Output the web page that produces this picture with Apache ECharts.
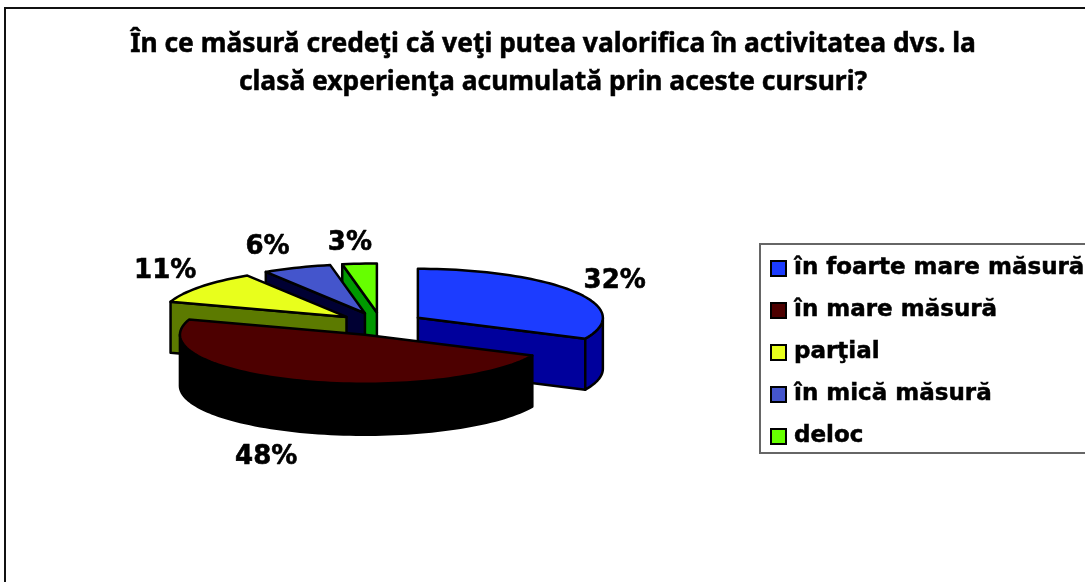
<!DOCTYPE html>
<html>
<head>
<meta charset="utf-8">
<title>Pie</title>
<style>
html,body{margin:0;padding:0;background:#fff}
#main{width:1085px;height:582px}
</style>
<script src="https://cdn.jsdelivr.net/npm/echarts@6/dist/echarts.min.js"></script>
</head>
<body>
<div id="main"></div>
<script>
// data
var titleText = 'În ce măsură credeţi că veţi putea valorifica în activitatea dvs. la\nclasă experienţa acumulată prin aceste cursuri?';
var categories = ['în foarte mare măsură', 'în mare măsură', 'parţial', 'în mică măsură', 'deloc'];
var values = [32, 48, 11, 6, 3];
var topColors = ['#1c3cff', '#4d0000', '#e8ff1c', '#4455cc', '#66ff00'];
var sideColors = ['#00009c', '#000000', '#5c7a00', '#000033', '#009900'];
// back to front
var drawOrder = [4, 3, 2, 0, 1];
// how far out the % label sits, in radii of the ellipse
var labelK = [[1.26, 1.48], [1.45, 1.53], [1.24, 1.6], [1.43, 1.49], [1.55, 1.46]];

var myChart = echarts.init(document.getElementById('main'));

// pie geometry
var baseX = 381, baseY = 324;
var rx = 185, ry = 49, depth = 51;
var explode = 0.236;
var labelFont = 'bold 26px "DejaVu Sans"';
var labelDy = 2;

var total = values.reduce(function (a, b) { return a + b; }, 0);
var startAngles = [];
var sum = 0;
for (var i = 0; i < values.length; i++) {
	startAngles.push(sum / total * 360);
	sum += values[i];
}

function rad(d) { return d * Math.PI / 180; }
function pt(c, deg, dy) {
	return [c[0] + rx * Math.sin(rad(deg)), c[1] - ry * Math.cos(rad(deg)) + (dy || 0)];
}
function arcPts(c, from, to, dy) {
	var res = [];
	var n = Math.max(2, Math.ceil((to - from) / 2));
	for (var i = 0; i <= n; i++) {
		res.push(pt(c, from + (to - from) * i / n, dy));
	}
	return res;
}
function poly(points, fill) {
	return {
		type: 'polygon',
		shape: {points: points},
		style: {fill: fill, stroke: '#000', lineWidth: 2.5, lineJoin: 'round'},
		silent: true
	};
}
function radialFace(c, deg, fill) {
	return poly([c, pt(c, deg), pt(c, deg, depth), [c[0], c[1] + depth]], fill);
}

function sliceItem(idx) {
	return function () {
		var from = startAngles[idx];
		var to = from + values[idx] / total * 360;
		var mid = (from + to) / 2;
		var c = [
			baseX + explode * rx * Math.sin(rad(mid)),
			baseY - explode * ry * Math.cos(rad(mid))
		];
		var kids = [];
		// cut faces turned to the viewer
		if (Math.sin(rad(from)) < -1e-6) kids.push(radialFace(c, from, sideColors[idx]));
		if (Math.sin(rad(to)) > 1e-6) kids.push(radialFace(c, to, sideColors[idx]));
		// outer wall, only the front half shows
		var a = Math.max(from, 90), b = Math.min(to, 270);
		if (b > a) {
			kids.push(poly(arcPts(c, a, b).concat(arcPts(c, a, b, depth).reverse()), sideColors[idx]));
		}
		// top
		kids.push(poly([c].concat(arcPts(c, from, to)), topColors[idx]));
		// label
		var below = Math.cos(rad(mid)) < 0 ? depth : 0;
		kids.push({
			type: 'text',
			silent: true,
			style: {
				x: c[0] + rx * labelK[idx][0] * Math.sin(rad(mid)),
				y: c[1] - ry * labelK[idx][1] * Math.cos(rad(mid)) + below + labelDy,
				text: Math.round(values[idx] / total * 100) + '%',
				font: labelFont,
				fill: '#000',
				stroke: '#000',
				lineWidth: 0.6,
				align: 'center',
				verticalAlign: 'middle'
			}
		});
		return {type: 'group', children: kids};
	};
}

var seriesList = [];
for (var j = 0; j < drawOrder.length; j++) {
	var k = drawOrder[j];
	seriesList.push({
		name: categories[k],
		type: 'custom',
		coordinateSystem: 'none',
		silent: true,
		itemStyle: {color: topColors[k]},
		data: [values[k]],
		renderItem: sliceItem(k)
	});
}

var option = {
	animation: false,
	backgroundColor: '#fff',
	title: {
		text: titleText,
		left: 548,
		top: 20,
		textAlign: 'center',
		textStyle: {
			fontFamily: 'Noto Sans',
			fontWeight: 'bold',
			fontSize: 26.4,
			lineHeight: 38,
			color: '#000',
			textBorderColor: '#000',
			textBorderWidth: 0.5
		}
	},
	legend: {
		data: categories,
		orient: 'vertical',
		left: 760,
		top: 244,
		padding: [11, 12, 3, 10],
		icon: 'rect',
		itemWidth: 15,
		itemHeight: 15,
		itemGap: 15,
		selectedMode: false,
		borderColor: '#666',
		borderWidth: 2,
		itemStyle: {borderColor: '#000', borderWidth: 2},
		textStyle: {
			fontFamily: 'DejaVu Sans',
			fontWeight: 'bold',
			fontSize: 23,
			lineHeight: 27,
			padding: [0, 0, 0, 3],
			color: '#000',
			textBorderColor: '#000',
			textBorderWidth: 0.5
		}
	},
	graphic: [{
		type: 'polyline',
		shape: {points: [[5, 582], [5, 8], [1085, 8]]},
		style: {fill: null, stroke: '#111', lineWidth: 2},
		silent: true
	}],
	series: seriesList
};
myChart.setOption(option);
</script>
</body>
</html>
